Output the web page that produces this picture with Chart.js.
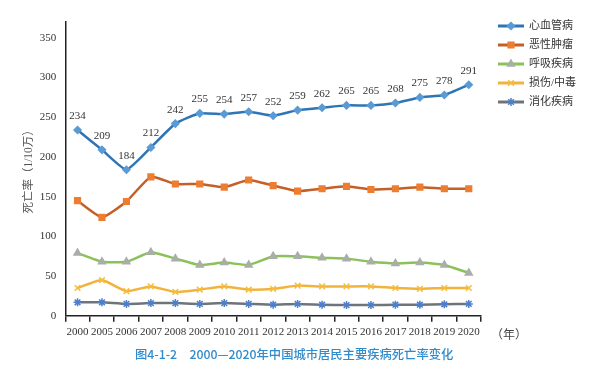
<!DOCTYPE html>
<html>
<head>
<meta charset="utf-8">
<script src="https://cdn.jsdelivr.net/npm/chart.js@4.4.1/dist/chart.umd.min.js"></script>
<style>
  html, body { margin: 0; padding: 0; background: #fff; }
  #wrap { position: relative; width: 600px; height: 379px; }
  #yearLbl { position: absolute; left: 491px; top: 325px; font: 12px "Liberation Serif", "Noto Sans CJK SC"; color: #444; }
  #cap { position: absolute; left: 135px; top: 345px; font: 500 12.3px "Noto Sans CJK SC", "Noto Sans", sans-serif; color: #2f8bcb; white-space: nowrap; }
</style>
</head>
<body>
<div id="wrap">
  <canvas id="c" width="600" height="379"></canvas>
  <div id="yearLbl">（年）</div>
  <div id="cap">图4-1-2　2000—2020年中国城市居民主要疾病死亡率变化</div>
</div>
<script>
// Chart data
const years = ['2000', '2005', '2006', '2007', '2008', '2009', '2010', '2011', '2012',
  '2013', '2014', '2015', '2016', '2017', '2018', '2019', '2020'];
const seriesNames = ['心血管病', '恶性肿瘤', '呼吸疾病', '损伤/中毒', '消化疾病'];
const cardio = [234, 209, 184, 212, 242, 255, 254, 257, 252, 259, 262, 265, 265, 268, 275, 278, 291];
const cancer = [145, 124, 144, 175, 166, 166, 162, 171, 164, 157, 160, 163, 159, 160, 162, 160, 160];
const respiratory = [79, 68, 68, 80, 72, 64, 67, 64, 75, 75, 73, 72, 68, 66, 67, 64, 54];
const injury = [35, 45, 31, 37, 30, 33, 37, 33, 34, 38, 37, 37, 37, 35, 34, 35, 35];
const digestive = [17, 17, 15, 16, 16, 15, 16, 15, 14, 15, 14, 13.5, 13.5, 14, 14, 14.5, 15];
const yTicks = [0, 50, 100, 150, 200, 250, 300, 350];

const styles = [
    { line: '#2e75b6', point: '#5b9bd5', shape: 'rectRot', r: 3.5 },
    { line: '#c55f28', point: '#ed7d31', shape: 'rect', r: 4 },
    { line: '#8cc05a', point: '#a9aeaa', shape: 'triangle', r: 4 },
    { line: '#f2b33d', point: '#f5bd3c', shape: 'crossRot', r: 4 },
    { line: '#6f7479', point: '#4f7fc8', shape: 'star', r: 4 }
];
const allData = [cardio, cancer, respiratory, injury, digestive];

const datasets = allData.map((d, i) => ({
    label: seriesNames[i],
    data: d,
    borderColor: styles[i].line,
    borderWidth: 2.5,
    backgroundColor: styles[i].point,
    pointStyle: styles[i].shape,
    pointRadius: styles[i].r,
    pointBorderColor: styles[i].point,
    pointBorderWidth: 1.5,
    pointBackgroundColor: styles[i].point,
    tension: 0.15,
    fill: false
}));

// value labels above the cardio line
const valueLabels = {
    id: 'valueLabels',
    afterDatasetsDraw(chart) {
        const ctx = chart.ctx;
        const meta = chart.getDatasetMeta(0);
        ctx.save();
        ctx.font = '11px "Liberation Serif", serif';
        ctx.fillStyle = '#333';
        ctx.textAlign = 'center';
        ctx.textBaseline = 'middle';
        meta.data.forEach((p, i) => {
            ctx.fillText(String(cardio[i]), p.x, p.y - 14);
        });
        ctx.restore();
    }
};

// legend at top right: line with marker in the middle
const sideLegend = {
    id: 'sideLegend',
    afterDraw(chart) {
        const ctx = chart.ctx;
        const x0 = 498, x1 = 524, tx = 529;
        ctx.save();
        chart.data.datasets.forEach((ds, i) => {
            const y = 26 + i * 19;
            ctx.strokeStyle = ds.borderColor;
            ctx.lineWidth = 3;
            ctx.beginPath();
            ctx.moveTo(x0, y);
            ctx.lineTo(x1, y);
            ctx.stroke();
            ctx.fillStyle = ds.pointBackgroundColor;
            ctx.strokeStyle = ds.pointBorderColor;
            ctx.lineWidth = 1.5;
            Chart.helpers.drawPoint(ctx, { pointStyle: ds.pointStyle, radius: ds.pointRadius, rotation: 0, borderWidth: 1.5 }, (x0 + x1) / 2, y);
            ctx.fillStyle = '#333';
            ctx.font = '11px "Liberation Serif", "Noto Sans CJK SC"';
            ctx.textAlign = 'left';
            ctx.textBaseline = 'middle';
            ctx.fillText(ds.label, tx, y);
        });
        ctx.restore();
    }
};

new Chart(document.getElementById('c'), {
    type: 'line',
    data: { labels: years, datasets: datasets },
    options: {
        responsive: false,
        animation: false,
        devicePixelRatio: 1,
        layout: { padding: { left: 22, right: 119, top: 22, bottom: 36 } },
        plugins: {
            legend: { display: false },
            tooltip: { enabled: false }
        },
        scales: {
            x: {
                offset: true,
                grid: { offset: true, drawOnChartArea: false, tickLength: 6, color: '#222', lineWidth: 1.5 },
                border: { color: '#222', width: 1.5 },
                ticks: {
                    color: '#333',
                    padding: 4,
                    maxRotation: 0,
                    autoSkip: false,
                    font: { family: '"Liberation Serif", serif', size: 11 }
                }
            },
            y: {
                min: 0,
                max: 370,
                afterBuildTicks(scale) {
                    scale.ticks = yTicks.map(v => ({ value: v }));
                },
                grid: { display: false, drawTicks: false },
                border: { color: '#222', width: 1.5 },
                ticks: {
                    color: '#333',
                    padding: 9,
                    font: { family: '"Liberation Serif", serif', size: 11 }
                },
                title: {
                    display: true,
                    text: '死亡率（1/10万）',
                    color: '#555',
                    padding: { top: 0, bottom: -5 },
                    font: { family: '"Liberation Serif", "Noto Sans CJK SC"', size: 11.5 }
                }
            }
        }
    },
    plugins: [valueLabels, sideLegend]
});
</script>
</body>
</html>
